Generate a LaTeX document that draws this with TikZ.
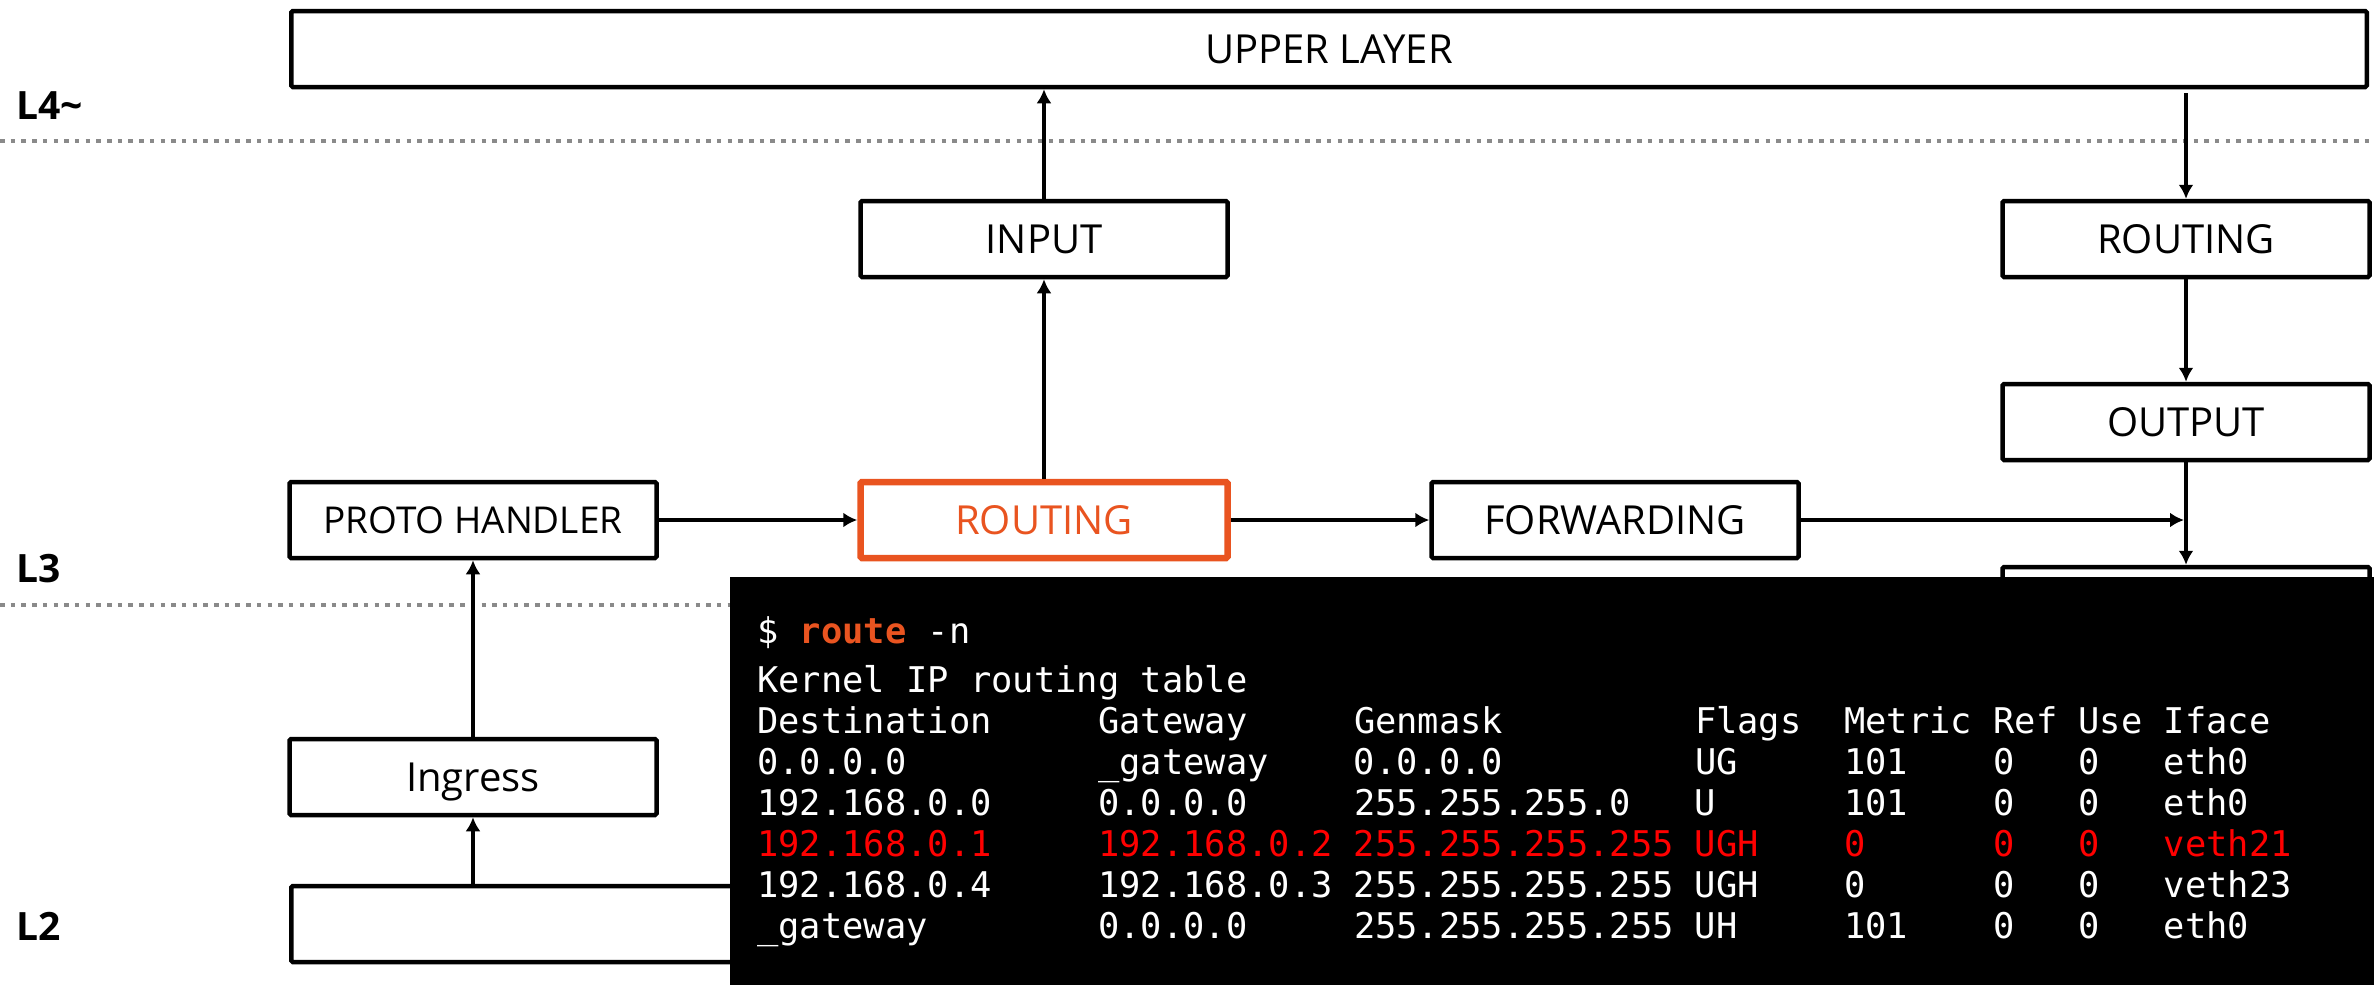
\documentclass[tikz,border=0pt]{standalone}
\usepackage{fontspec}
\setmainfont{Open Sans}
\setmonofont{DejaVu Sans Mono}
\usetikzlibrary{arrows.meta,positioning}

\definecolor{ubuorange}{HTML}{E95420}
\definecolor{dotgray}{HTML}{8A8A8A}
\definecolor{termred}{HTML}{FF0000}

% fixed-width column of the shell output
\newcommand\cell[2]{\makebox[\dimexpr0.6021em*#1\relax][l]{#2}}

\begin{document}
\begin{tikzpicture}[
  x=1pt, y=-1pt,
  node distance=571pt,
  stage/.style={draw, line width=4.5pt, rounded corners=1.5pt, fill=white, minimum width=367pt, minimum height=76pt, inner sep=0pt, font=\fontsize{40}{48}\selectfont, text height=28.5pt, text depth=0pt},
  hotstage/.style={stage, draw=ubuorange, text=ubuorange, line width=6.5pt},
  lvl/.style={anchor=base west, inner sep=0pt, font=\bfseries\fontsize{39}{46}\selectfont},
  divider/.style={dotgray, line width=4.5pt, dash pattern=on 4.5pt off 6.2pt},
  flow/.style={->, line width=4pt},
  shellline/.style={anchor=base west, inner sep=0pt, text=white, font=\ttfamily\fontsize{35.4}{41}\selectfont},
  >={Latex[length=14pt,width=15pt]}
]
  \useasboundingbox (0,0) rectangle (2374,985);

  % Layer borders
  \draw[divider] (0,141) -- (2374,141);
  \draw[divider] (0,605) -- (2374,605);

  \node[lvl] (l4) at (16,119) {L4\textasciitilde};
  \node[lvl] (l3) at (16,582) {L3};
  \node[lvl] (l2) at (16,940) {L2};

  % Stages
  \node[stage, minimum width=2075.5pt] (upper) at (1329,49) {UPPER LAYER};
  \node[stage, font=\fontsize{37}{44}\selectfont, text height=26.4pt] (proto) at (473,520) {PROTO HANDLER};
  \node[hotstage, right of=proto] (route) {ROUTING};
  \node[stage, right of=route] (fwd) {FORWARDING};
  \node[stage, above of=route, node distance=281pt] (input) {INPUT};
  \node[stage, below of=proto, node distance=257pt] (ingress) {Ingress};
  \node[stage, minimum width=2075.5pt] (link) at (1329,924) {};

  \node[stage, right of=input, node distance=1142pt] (routeout) {ROUTING};
  \node[stage, below of=routeout, node distance=183pt] (output) {OUTPUT};
  \node[stage, below of=output, node distance=183pt] (post) {};

  % Receive path
  \draw[flow] (link.north -| ingress) -- (ingress);
  \draw[flow] (ingress) -- (proto);
  \draw[flow] (proto) -- (route);
  \draw[flow] (route) -- (input);
  \draw[flow] (input) -- (input |- upper.south);
  \draw[flow] (route) -- (fwd);

  % Send path
  \draw[flow, shorten <=4pt] (routeout |- upper.south) -- (routeout);
  \draw[flow] (routeout) -- (output);
  \draw[flow] (output) -- (post);
  \coordinate (merge) at (output |- fwd);
  \draw[flow, shorten >=2pt] (fwd) -- (merge);

  % Shell output
  \node[fill=black, minimum width=1644pt, minimum height=408pt, anchor=north west, inner sep=0pt] (shell) at (730,577) {};
  \node[shellline] (prompt) at (757,643) {\$ \textcolor{ubuorange}{\bfseries route} -n};
  \node[shellline] (title) at (757,692) {Kernel IP routing table};
  \node[shellline] (head) at (757,733) {\cell{16}{Destination}\cell{12}{Gateway}\cell{16}{Genmask}\cell{7}{Flags}\cell{7}{Metric}\cell{4}{Ref}\cell{4}{Use}Iface};
  \node[shellline] (row1) at (757,774) {\cell{16}{0.0.0.0}\cell{12}{\_gateway}\cell{16}{0.0.0.0}\cell{7}{UG}\cell{7}{101}\cell{4}{0}\cell{4}{0}eth0};
  \node[shellline] (row2) at (757,815) {\cell{16}{192.168.0.0}\cell{12}{0.0.0.0}\cell{16}{255.255.255.0}\cell{7}{U}\cell{7}{101}\cell{4}{0}\cell{4}{0}eth0};
  \node[shellline, text=termred] (row3) at (757,856) {\cell{16}{192.168.0.1}\cell{12}{192.168.0.2}\cell{16}{255.255.255.255}\cell{7}{UGH}\cell{7}{0}\cell{4}{0}\cell{4}{0}veth21};
  \node[shellline] (row4) at (757,897) {\cell{16}{192.168.0.4}\cell{12}{192.168.0.3}\cell{16}{255.255.255.255}\cell{7}{UGH}\cell{7}{0}\cell{4}{0}\cell{4}{0}veth23};
  \node[shellline] (row5) at (757,938) {\cell{16}{\_gateway}\cell{12}{0.0.0.0}\cell{16}{255.255.255.255}\cell{7}{UH}\cell{7}{101}\cell{4}{0}\cell{4}{0}eth0};

\end{tikzpicture}
\end{document}
